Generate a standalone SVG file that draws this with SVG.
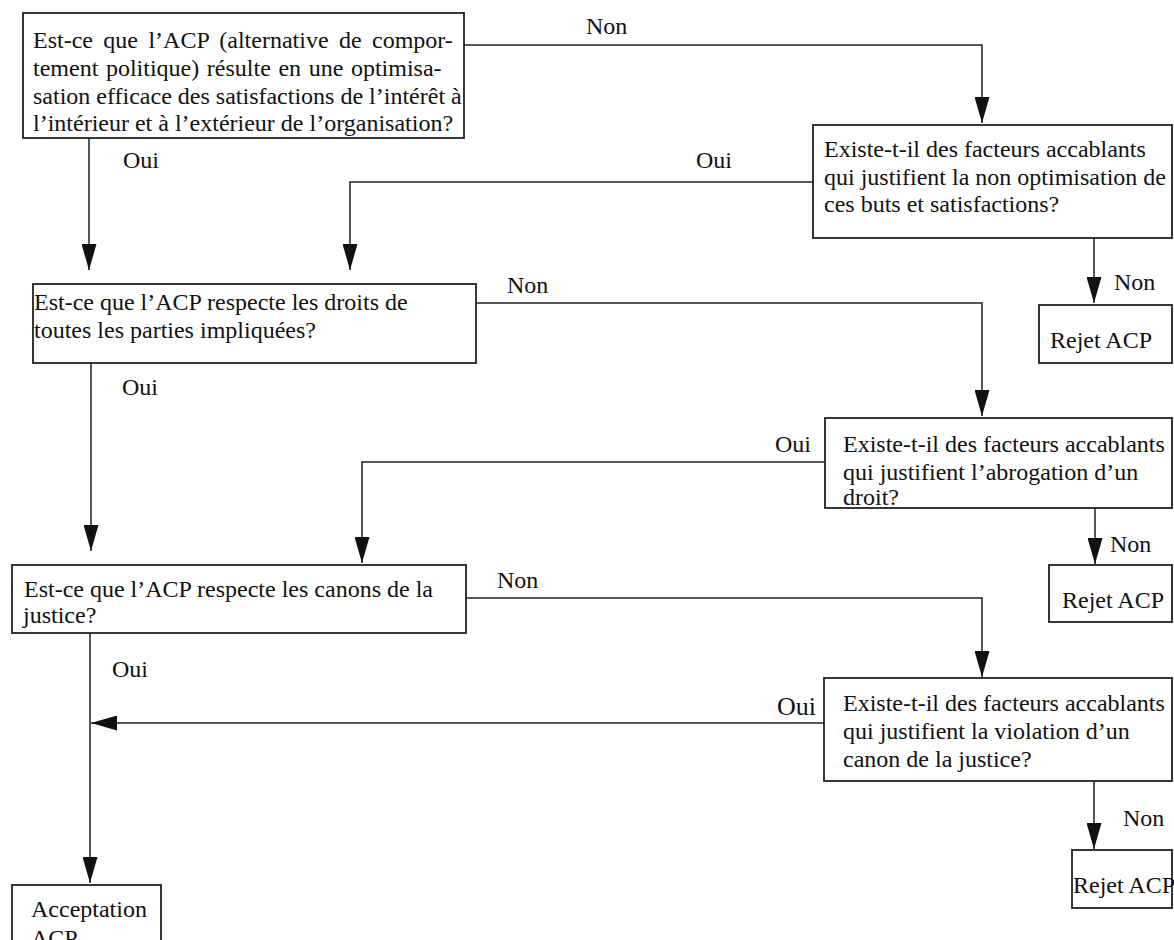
<svg xmlns="http://www.w3.org/2000/svg" width="1174" height="940" viewBox="0 0 1174 940">
<style>
.box{fill:#fff;stroke:#222;stroke-width:1.8}
.t{font-family:'Liberation Serif','Times New Roman',serif;font-size:24px;fill:#111}
.c{fill:none;stroke:#222;stroke-width:1.5}
</style>
<defs>
<marker id="ah" markerUnits="userSpaceOnUse" markerWidth="26" markerHeight="15" viewBox="0 0 26 15" refX="26" refY="7.5" orient="auto">
<path d="M0,0 L26,7.5 L0,15 Z" fill="#111"/>
</marker>
</defs>
<rect width="1174" height="940" fill="#fff"/>
<g id="connectors">
<path class="c" d="M464,45 H982 V123" marker-end="url(#ah)"/>
<path class="c" d="M89,138 V270" marker-end="url(#ah)"/>
<path class="c" d="M813,182 H350 V270" marker-end="url(#ah)"/>
<path class="c" d="M1094,238 V303" marker-end="url(#ah)"/>
<path class="c" d="M463,303 H982 V416" marker-end="url(#ah)"/>
<path class="c" d="M91,363 V551" marker-end="url(#ah)"/>
<path class="c" d="M825,462 H362 V563" marker-end="url(#ah)"/>
<path class="c" d="M1095,508 V564" marker-end="url(#ah)"/>
<path class="c" d="M463,598 H982 V677" marker-end="url(#ah)"/>
<path class="c" d="M90,633 V883" marker-end="url(#ah)"/>
<path class="c" d="M824,723 H91" marker-end="url(#ah)"/>
<path class="c" d="M1094,781 V849" marker-end="url(#ah)"/>
<text class="t" x="586" y="34">Non</text>
<text class="t" x="123" y="168">Oui</text>
<text class="t" x="696" y="168">Oui</text>
<text class="t" x="1114" y="290">Non</text>
<text class="t" x="507" y="293">Non</text>
<text class="t" x="122" y="395">Oui</text>
<text class="t" x="775" y="452">Oui</text>
<text class="t" x="1110" y="552">Non</text>
<text class="t" x="497" y="588">Non</text>
<text class="t" x="112" y="677">Oui</text>
<text class="t" x="777" y="715" style="font-size:26px">Oui</text>
<text class="t" x="1123" y="826">Non</text>
</g>
<g id="q1">
<rect class="box" x="23" y="13" width="441" height="125"/>
<text class="t" x="33" y="48" word-spacing="4.4">Est-ce que l’ACP (alternative de compor-</text>
<text class="t" x="33" y="76" word-spacing="1.6">tement politique) résulte en une optimisa-</text>
<text class="t" x="33" y="104">sation efficace des satisfactions de l’intérêt à</text>
<text class="t" x="33" y="131">l’intérieur et à l’extérieur de l’organisation?</text>
</g>
<g id="e1">
<rect class="box" x="813" y="125" width="359" height="113"/>
<text class="t" x="824" y="157">Existe-t-il des facteurs accablants</text>
<text class="t" x="824" y="185">qui justifient la non optimisation de</text>
<text class="t" x="824" y="212">ces buts et satisfactions?</text>
</g>
<g id="r1">
<rect class="box" x="1039" y="305" width="133" height="58"/>
<text class="t" x="1050" y="348">Rejet ACP</text>
</g>
<g id="q2">
<rect class="box" x="33" y="284" width="443" height="79"/>
<text class="t" x="34" y="310">Est-ce que l’ACP respecte les droits de</text>
<text class="t" x="34" y="338">toutes les parties impliquées?</text>
</g>
<g id="e2">
<rect class="box" x="825" y="418" width="347" height="90"/>
<text class="t" x="843" y="452">Existe-t-il des facteurs accablants</text>
<text class="t" x="843" y="480">qui justifient l’abrogation d’un</text>
<text class="t" x="843" y="505">droit?</text>
</g>
<g id="r2">
<rect class="box" x="1049" y="565" width="123" height="57"/>
<text class="t" x="1062" y="608">Rejet ACP</text>
</g>
<g id="q3">
<rect class="box" x="12" y="565" width="454" height="68"/>
<text class="t" x="24" y="597">Est-ce que l’ACP respecte les canons de la</text>
<text class="t" x="23" y="623">justice?</text>
</g>
<g id="e3">
<rect class="box" x="824" y="678" width="348" height="103"/>
<text class="t" x="843" y="711">Existe-t-il des facteurs accablants</text>
<text class="t" x="843" y="739">qui justifient la violation d’un</text>
<text class="t" x="843" y="767">canon de la justice?</text>
</g>
<g id="r3">
<rect class="box" x="1072" y="850" width="100" height="58"/>
<text class="t" x="1073" y="893">Rejet ACP</text>
</g>
<g id="acc">
<rect class="box" x="12" y="885" width="149" height="70"/>
<text class="t" x="31" y="917">Acceptation</text>
<text class="t" x="31" y="946">ACP</text>
</g>
</svg>
